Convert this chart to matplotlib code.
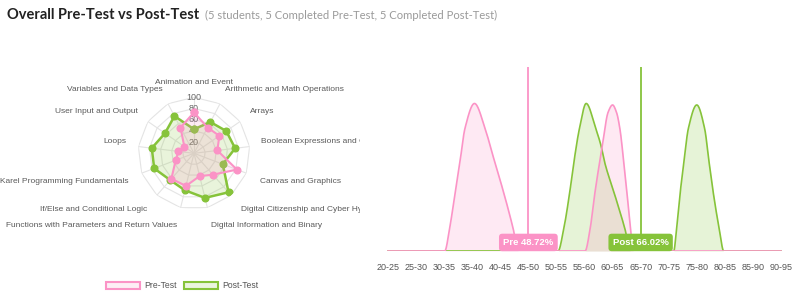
import numpy as np
import matplotlib
matplotlib.use("Agg")
import matplotlib.pyplot as plt
from matplotlib.patches import Patch
from matplotlib.transforms import Bbox, TransformedBbox

plt.rcParams['font.family'] = ['Liberation Sans', 'DejaVu Sans']

# radar data (% correct per topic)
topics = ["Animation and Event", "Arithmetic and Math Operations", "Arrays",
          "Boolean Expressions and Operators", "Canvas and Graphics",
          "Digital Citizenship and Cyber Hygiene", "Digital Information and Binary",
          "Functions with Parameters and Return Values", "If/Else and Conditional Logic",
          "Karel Programming Fundamentals", "Loops", "User Input and Output",
          "Variables and Data Types"]
pre_topic = [73, 52, 55, 42, 82, 51, 42, 60, 61, 35, 28, 21, 52]
post_topic = [43, 63, 70, 74, 55, 93, 82, 68, 64, 76, 76, 63, 75]
radar_ticks = [20, 40, 60, 80, 100]

# score distribution curves (score %, relative density)
bins = ["20-25", "25-30", "30-35", "35-40", "40-45", "45-50", "50-55", "55-60",
        "60-65", "65-70", "70-75", "75-80", "80-85", "85-90", "90-95"]
pre_score = [22.5, 32.6, 33.5, 34.4, 35.3, 36.2, 37.9, 39.8, 41.0, 42.4, 44.0, 44.8, 45.7,
             57.6, 58.5, 59.3, 60.7, 61.7, 62.5, 63.2, 63.8, 64.5, 65.1, 65.7, 66.2, 92.5]
pre_dens = [0, 0, 0.16, 0.38, 0.60, 0.83, 1.0, 0.83, 0.67, 0.49, 0.27, 0.15, 0,
            0, 0.15, 0.38, 0.72, 0.94, 0.99, 0.94, 0.83, 0.60, 0.38, 0.15, 0, 0]
post_score = [22.5, 52.8, 53.8, 54.8, 55.6, 56.6, 57.8, 59.5, 60.4, 61.1, 62.9, 64.7, 65.7,
              73.4, 73.9, 74.5, 75.2, 76.0, 77.5, 78.9, 79.7, 80.5, 81.5, 82.3, 92.5]
post_dens = [0, 0, 0.15, 0.38, 0.60, 0.83, 1.0, 0.83, 0.72, 0.60, 0.38, 0.15, 0,
             0, 0.15, 0.38, 0.60, 0.83, 0.99, 0.83, 0.60, 0.38, 0.15, 0, 0]
pre_mean = 48.72
post_mean = 66.02

pink = "#fb93c6"
green = "#86c33a"


def monotone(xs, ys, n=30):
    # monotone cubic (Fritsch-Carlson) for drawing smooth lines
    xs = np.asarray(xs, float)
    ys = np.asarray(ys, float)
    h = np.diff(xs)
    d = np.diff(ys) / h
    m = np.zeros_like(ys)
    m[0], m[-1] = d[0], d[-1]
    for k in range(1, len(xs) - 1):
        if d[k - 1] * d[k] > 0:
            w1 = 2 * h[k] + h[k - 1]
            w2 = h[k] + 2 * h[k - 1]
            m[k] = (w1 + w2) / (w1 / d[k - 1] + w2 / d[k])
    ox, oy = [], []
    for k in range(len(xs) - 1):
        t = np.linspace(0, 1, n, endpoint=False)
        h00 = 2 * t**3 - 3 * t**2 + 1
        h10 = t**3 - 2 * t**2 + t
        h01 = -2 * t**3 + 3 * t**2
        h11 = t**3 - t**2
        ox.append(xs[k] + t * h[k])
        oy.append(h00 * ys[k] + h10 * h[k] * m[k] + h01 * ys[k + 1] + h11 * h[k] * m[k + 1])
    ox.append([xs[-1]])
    oy.append([ys[-1]])
    return np.concatenate(ox), np.concatenate(oy)


fig = plt.figure(figsize=(8, 3.03), dpi=100)

fig.text(7 / 800, 1 - 15 / 303, "Overall Pre-Test vs Post-Test", fontsize=10.5,
         fontweight='bold', family=['Lato', 'DejaVu Sans'], color="#222222", va='center')
fig.text(205 / 800, 1 - 15.5 / 303, "(5 students, 5 Completed Pre-Test, 5 Completed Post-Test)",
         fontsize=8.15, family=['Lato', 'DejaVu Sans'], color="#9a9a9a", va='center')

# ---- radar ----
R = 56
cx, cy = 194, 303 - 153.3
ax = fig.add_axes([(cx - R) / 800, (cy - R) / 303, 2 * R / 800, 2 * R / 303], projection='polar')
ax.set_theta_zero_location('N')
ax.set_theta_direction(-1)
ax.set_ylim(0, 100)
ax.grid(False)
ax.set_xticks([])
ax.set_yticks([])
ax.spines['polar'].set_visible(False)
ax.patch.set_alpha(0)

n = len(topics)
theta = np.arange(n) * 2 * np.pi / n
ring = np.append(theta, theta[0])
for r in radar_ticks:
    ax.plot(ring, [r] * (n + 1), color="#e4e4e4", lw=0.8, zorder=1)
for t in theta:
    ax.plot([t, t], [0, 100], color="#e4e4e4", lw=0.8, zorder=1)
for r in radar_ticks:
    ax.text(0, r, str(r), ha='center', va='center', fontsize=6.5, color="#666666", zorder=2)

post_c = np.append(post_topic, post_topic[0])
pre_c = np.append(pre_topic, pre_topic[0])
ax.fill(ring, post_c, color=green, alpha=0.18, lw=0, zorder=3)
ax.plot(ring, post_c, color=green, lw=1.8, marker='o', ms=4.8, zorder=4)
ax.fill(ring, pre_c, color=pink, alpha=0.18, lw=0, zorder=5)
ax.plot(ring, pre_c, color=pink, lw=1.5, marker='o', ms=4.8, zorder=6)

clip = TransformedBbox(Bbox([[0, 0], [360 / 800, 1]]), fig.transFigure)
for t, name in zip(theta, topics):
    deg = np.degrees(t)
    if abs(deg) < 1 or abs(deg - 180) < 1:
        ha = 'center'
    elif deg < 180:
        ha = 'left'
    else:
        ha = 'right'
    r_lab = 121
    if abs(deg - 90) < 1 or abs(deg - 270) < 1:
        va = 'center'
    elif deg < 90 or deg > 270:
        va = 'bottom'
    else:
        va = 'top'
        r_lab = 126
    txt = ax.text(t, r_lab, name, ha=ha, va=va, fontsize=6.05, color="#5a5a5a", clip_on=True)
    txt.set_clip_path(None)
    txt.set_clip_box(clip)

fig.legend(handles=[Patch(facecolor="#fdeef5", edgecolor=pink, lw=1.5, label="Pre-Test"),
                    Patch(facecolor="#ebf5df", edgecolor=green, lw=1.5, label="Post-Test")],
           loc='center', bbox_to_anchor=(182 / 800, 1 - 286 / 303), ncol=2, frameon=False,
           fontsize=6.2, handlelength=4.0, handleheight=0.85, handletextpad=0.45,
           columnspacing=0.85, labelcolor="#555555")

# ---- distribution ----
bx = fig.add_axes([374 / 800, 52 / 303, 421 / 800, 184.4 / 303])
centers = 22.5 + 5 * np.arange(len(bins))
bx.set_xlim(20, 95)
bx.set_ylim(0, 1.25)

gx, gy = monotone(post_score, post_dens)
bx.fill_between(gx, 0, gy, color=green, alpha=0.2, lw=0)
bx.plot(gx, gy, color=green, lw=1.2)
px, py = monotone(pre_score, pre_dens)
bx.fill_between(px, 0, py, color=pink, alpha=0.2, lw=0)
bx.plot(px, py, color=pink, lw=1.2)

pre_bin = np.floor(pre_mean / 5) * 5 + 2.5
post_bin = np.floor(post_mean / 5) * 5 + 2.5
bx.axvline(pre_bin, color=pink, lw=1.3)
bx.axvline(post_bin, color=green, lw=1.3)
bx.text(pre_bin, 0.058, "Pre %.2f%%" % pre_mean, ha='center', va='center', color='white',
        fontsize=6.8, fontweight='bold', zorder=5,
        bbox=dict(boxstyle='round,pad=0.45,rounding_size=0.35', fc=pink, ec='none'))
bx.text(post_bin, 0.058, "Post %.2f%%" % post_mean, ha='center', va='center', color='white',
        fontsize=6.8, fontweight='bold', zorder=5,
        bbox=dict(boxstyle='round,pad=0.45,rounding_size=0.35', fc=green, ec='none'))

bx.set_xticks(centers)
bx.set_xticklabels(bins)
bx.tick_params(axis='x', length=0, pad=9, labelsize=6.5, labelcolor="#555555")
bx.set_yticks([])
for s in bx.spines.values():
    s.set_visible(False)

fig.savefig("out.png", dpi=100)
